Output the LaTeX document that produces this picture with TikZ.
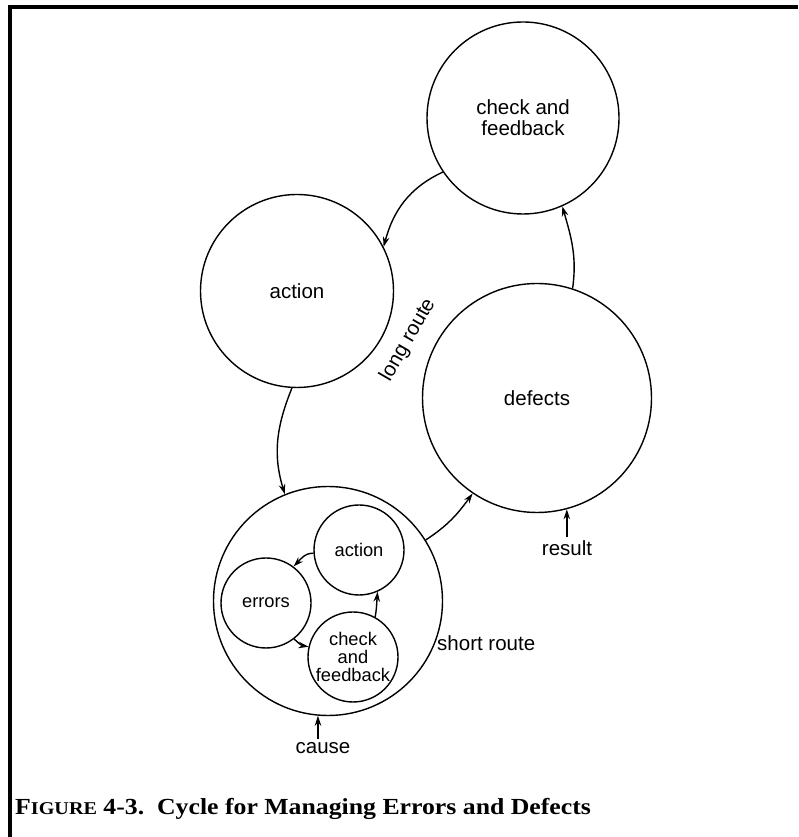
\documentclass[tikz,border=0pt]{standalone}
\usepackage{fontspec}
\setsansfont{Liberation Sans}
\newfontfamily\capfont[FakeStretch=1.12]{Liberation Serif}
\usetikzlibrary{arrows.meta}
\tikzset{
  krug/.style={draw,circle,inner sep=0pt,line width=1.4pt},
  strelka/.style={line width=1.4pt,-{Stealth[length=10pt,width=6.5pt]}},
  nadp/.style={font=\sffamily\fontsize{20.5}{21}\selectfont,align=center},
  malnadp/.style={font=\sffamily\fontsize{18.3}{18}\selectfont,align=center},
}
\begin{document}
\begin{tikzpicture}[x=1pt,y=1pt]
  \useasboundingbox (0,0) rectangle (798,837);
  % рамка
  \draw[line width=4pt] (10,0) -- (10,830) -- (798,830);
  % большой цикл
  \node[krug,minimum size=192pt,nadp] (chk) at (523,719) {check and\\feedback};
  \node[krug,minimum size=193pt,nadp] (act) at (297,546) {action};
  \node[krug,minimum size=229pt,nadp] (def) at (537,439) {defects};
  \node[krug,minimum size=229pt] (kor) at (328,236) {};
  % малый цикл
  \node[krug,minimum size=90pt,malnadp] (kact) at (359,287) {action};
  \node[krug,minimum size=90pt,malnadp] (err) at (266,234) {errors};
  \node[krug,minimum size=90pt,malnadp] (kchk) at (353,180) {check\\and\\feedback};
  % стрелки
  \draw[strelka] (chk.214) to[out=205,in=75] (act.27);
  \draw[strelka] (def.72) to[out=82,in=286] (chk.294);
  \draw[strelka] (act.267) to[out=248,in=107] (kor.112);
  \draw[strelka] (kor.32) to[out=33,in=234] (def.236);
  \draw[strelka] (kact.184) to[out=180,in=45] (err.53);
  \draw[strelka] (err.308) to[out=-45,in=170] (kchk.167);
  \draw[strelka] (kchk.61) to[out=80,in=265] (kact.294);
  % подписи
  \node[nadp,rotate=60,inner sep=0pt] (dlin) at (408,497) {long route};
  \node[nadp,anchor=west,inner sep=0pt] (kratk) at (437,194) {short route};
  \node[nadp] (cause) at (323,89) {cause};
  \node[nadp] (res) at (567,289) {result};
  \draw[strelka] (kor.265 |- cause.north) -- (kor.265);
  \draw[strelka] (def.285 |- res.north) -- (def.285);
  \node[anchor=base west,inner sep=0pt,font=\capfont\bfseries\fontsize{23}{23}\selectfont] (podp) at (15,22)
    {F{\fontsize{18}{18}\selectfont IGURE} 4-3.\ \ Cycle for Managing Errors and Defects};
\end{tikzpicture}
\end{document}
